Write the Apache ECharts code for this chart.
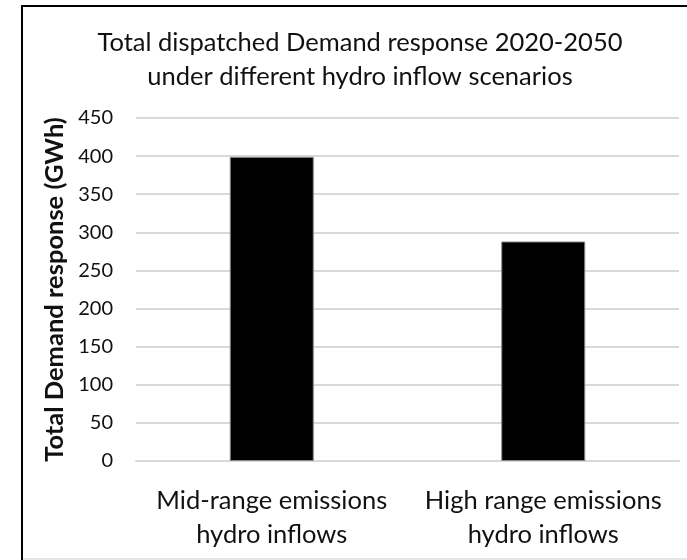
<!DOCTYPE html>
<html><head><meta charset="utf-8">
<script src="https://cdn.jsdelivr.net/npm/echarts@6/dist/echarts.min.js"></script>
<style>html,body{margin:0;padding:0;background:#fff}#c{width:687px;height:560px}</style>
</head><body><div id="c"></div>
<script>
const categories = ['Mid-range emissions\nhydro inflows', 'High range emissions\nhydro inflows'];
const demandResponse = [399, 288];
const yTicks = { min: 0, max: 450, interval: 50 };
const titleText = 'Total dispatched Demand response 2020-2050\nunder different hydro inflow scenarios';
const yName = 'Total Demand response (GWh)';

const FONT = 'Lato, "Open Sans", sans-serif';
const chart = echarts.init(document.getElementById('c'));
chart.setOption({
  backgroundColor: '#fff',
  animation: false,
  title: {
    text: titleText,
    left: 355, top: 21, textAlign: 'center',
    textStyle: { fontFamily: FONT, fontSize: 25.5, fontWeight: 'normal', color: '#111', lineHeight: 34 }
  },
  grid: { left: 136, right: 8, top: 118, bottom: 99 },
  xAxis: {
    type: 'category', data: categories,
    axisLine: { lineStyle: { color: '#d9d9d9', width: 2 } },
    axisTick: { show: false },
    axisLabel: { interval: 0, fontFamily: FONT, fontSize: 25.5, color: '#111', lineHeight: 34, margin: 23 }
  },
  yAxis: {
    type: 'value', min: yTicks.min, max: yTicks.max, interval: yTicks.interval,
    name: yName, nameLocation: 'middle', nameGap: 67,
    nameTextStyle: { fontFamily: FONT, fontSize: 25.5, fontWeight: 'bold', color: '#111' },
    axisLine: { show: false }, axisTick: { show: false },
    axisLabel: { fontFamily: FONT, fontSize: 20, color: '#111', margin: 23 },
    splitLine: { lineStyle: { color: '#d9d9d9', width: 2 } }
  },
  series: [{
    type: 'bar', data: demandResponse, barWidth: 84,
    itemStyle: { color: '#000', borderColor: '#888', borderWidth: 1 }
  }],
  graphic: [
    { type: 'line', shape: { x1: 21, y1: 6, x2: 687, y2: 6 }, style: { stroke: '#000', lineWidth: 2 } },
    { type: 'line', shape: { x1: 22, y1: 5, x2: 22, y2: 560 }, style: { stroke: '#000', lineWidth: 2 } },
    { type: 'line', shape: { x1: 23, y1: 559, x2: 687, y2: 559 }, style: { stroke: '#e6e6e6', lineWidth: 2 } }
  ]
});
</script></body></html>
